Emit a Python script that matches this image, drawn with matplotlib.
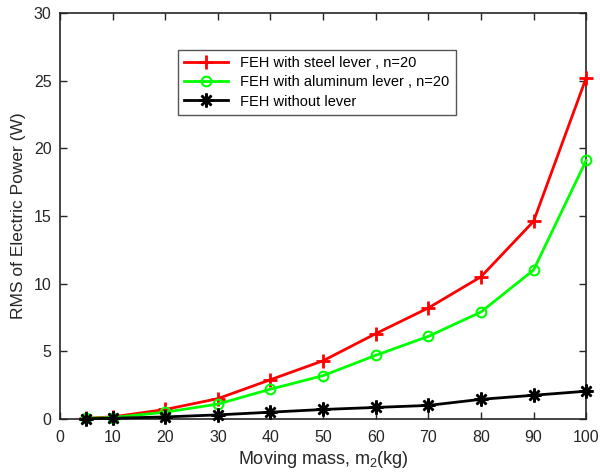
import numpy as np
import matplotlib.pyplot as plt

plt.rcParams['font.family'] = ['Liberation Sans', 'DejaVu Sans']
plt.rcParams['mathtext.default'] = 'regular'

mass = [5, 10, 20, 30, 40, 50, 60, 70, 80, 90, 100]
p_steel = [0.05, 0.15, 0.7, 1.5, 2.9, 4.3, 6.3, 8.2, 10.5, 14.6, 25.2]
p_alu = [0.05, 0.1, 0.5, 1.1, 2.2, 3.2, 4.7, 6.1, 7.9, 11.0, 19.1]
p_none = [0.02, 0.05, 0.15, 0.3, 0.5, 0.7, 0.85, 1.0, 1.45, 1.75, 2.05]

fig = plt.figure(figsize=(6, 4.75), dpi=100)
ax = fig.add_axes([0.1, 0.118, 0.877, 0.855])

ax.plot(mass, p_steel, color='#ff0000', marker='+', markersize=10, markeredgewidth=2,
        linewidth=2, label='FEH with steel lever , n=20', clip_on=False, zorder=3)
ax.plot(mass, p_alu, color='#00ff00', marker='o', markersize=7, markerfacecolor='none',
        markeredgewidth=1.5, linewidth=2, label='FEH with aluminum lever , n=20',
        clip_on=False, zorder=3)
ax.plot(mass, p_none, color='black', marker=(8, 2, 0), markersize=10, markeredgewidth=1.8,
        linewidth=2, label='FEH without lever', clip_on=False, zorder=3)

ax.set_xlim(0, 100)
ax.set_ylim(0, 30)
ax.set_xticks(np.arange(0, 101, 10))
ax.set_yticks(np.arange(0, 31, 5))
ax.tick_params(direction='in', top=True, right=True, labelsize=11.5, colors='#262626',
               length=5, width=1)
ax.tick_params(axis='x', pad=8)
ax.tick_params(axis='y', pad=6)
for s in ax.spines.values():
    s.set_linewidth(1.2)
    s.set_color('#262626')

ax.set_xlabel('Moving mass, m$_2$(kg)', fontsize=13, color='#262626', labelpad=3)
ax.set_ylabel('RMS of Electric Power (W)', fontsize=12.5, color='#262626', labelpad=6)

leg = ax.legend(loc='upper left', bbox_to_anchor=(0.224, 0.909), fontsize=10.5,
                fancybox=False, framealpha=1, edgecolor='#555555', handlelength=3.0,
                borderpad=0.45, labelspacing=0.35, borderaxespad=0)
leg.get_frame().set_linewidth(1)

fig.savefig('out.png', dpi=100)
